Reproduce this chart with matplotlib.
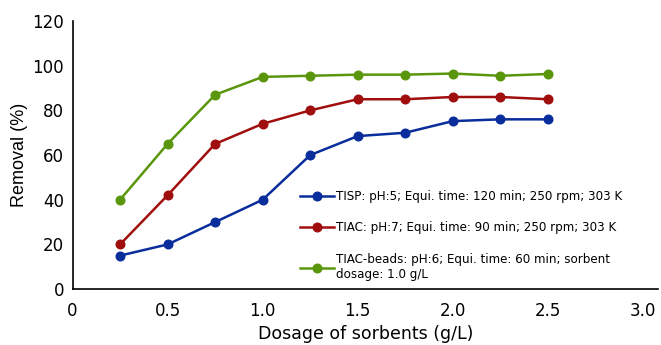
import matplotlib.pyplot as plt

plt.rcParams["font.family"] = ["DejaVu Sans"]

dosage = [0.25, 0.5, 0.75, 1.0, 1.25, 1.5, 1.75, 2.0, 2.25, 2.5]
tisp = [15, 20, 30, 40, 60, 68.5, 70, 75.2, 76, 76]
tiac = [20, 42, 65, 74, 80, 85, 85, 86, 86, 85]
tiac_beads = [40, 65, 87, 95, 95.5, 96, 96, 96.5, 95.5, 96.3]

labels = [
    "TISP: pH:5; Equi. time: 120 min; 250 rpm; 303 K",
    "TIAC: pH:7; Equi. time: 90 min; 250 rpm; 303 K",
    "TIAC-beads: pH:6; Equi. time: 60 min; sorbent\ndosage: 1.0 g/L",
]
colors = ["#0a2d9c", "#a00e0e", "#5a960c"]
xticks = [0, 0.5, 1.0, 1.5, 2.0, 2.5, 3.0]
xticklabels = ["0", "0.5", "1.0", "1.5", "2.0", "2.5", "3.0"]
yticks = [0, 20, 40, 60, 80, 100, 120]

fig = plt.figure(figsize=(6.61, 3.45), dpi=100)
ax = fig.add_axes([0.1097, 0.162, 0.886, 0.777])

for ys, c, lab in zip([tisp, tiac, tiac_beads], colors, labels):
    ax.plot(dosage, ys, color=c, lw=1.8, marker="o", ms=6.2, label=lab)

ax.set_xlim(0, 3.08)
ax.set_ylim(0, 120)
ax.set_xticks(xticks)
ax.set_xticklabels(xticklabels)
ax.set_yticks(yticks)
ax.tick_params(length=0, labelsize=12)
ax.tick_params(axis="x", pad=9)
ax.tick_params(axis="y", pad=6)
ax.spines["top"].set_visible(False)
ax.spines["right"].set_visible(False)
ax.spines["left"].set_linewidth(1.2)
ax.spines["bottom"].set_linewidth(1.2)
ax.set_xlabel("Dosage of sorbents (g/L)", fontsize=12.5, labelpad=4)
ax.set_ylabel("Removal (%)", fontsize=13, labelpad=3,
              family=["Liberation Sans"])

ax.legend(loc="upper left", bbox_to_anchor=(0.389, 0.37), frameon=False,
          fontsize=8.6, handlelength=2.8, handletextpad=0.15,
          labelspacing=1.55, borderpad=0, borderaxespad=0)

fig.savefig("out.png", dpi=100)
